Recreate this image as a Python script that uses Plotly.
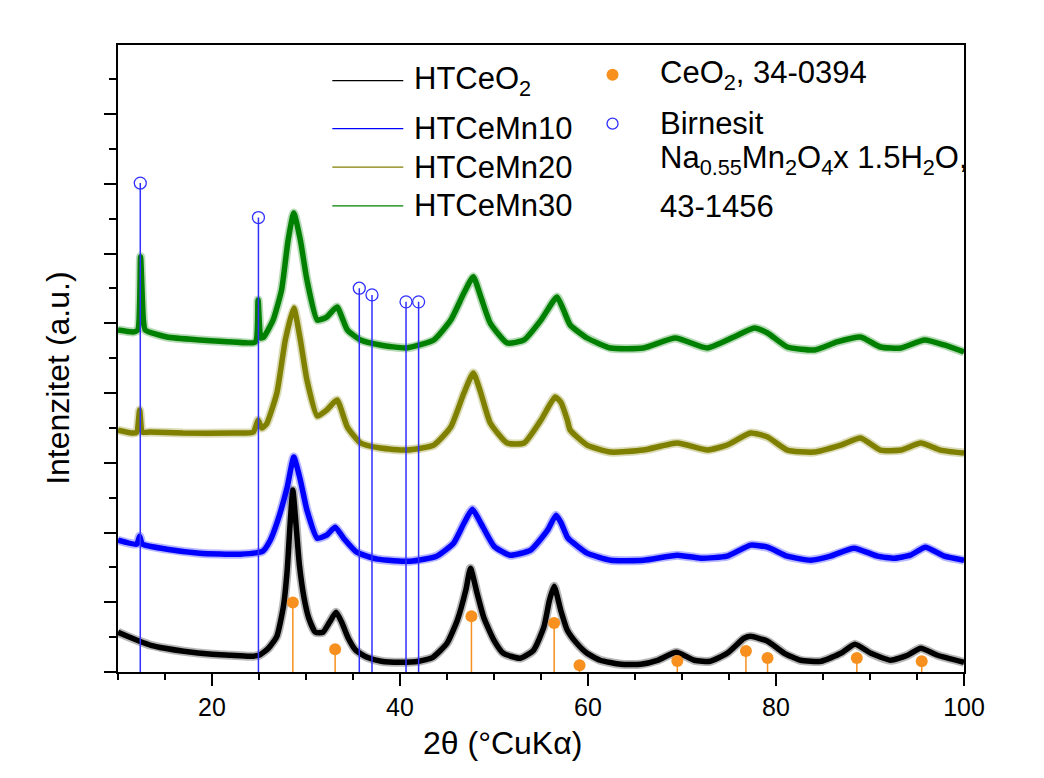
import plotly.graph_objects as go

# ---------------- data ----------------
# HTCeO2 (black)
x_ceo2 = [10.0, 11.0, 12.3, 13.5, 15.0, 17.0, 20.0, 22.0, 24.0, 25.0, 26.0, 26.9, 27.6, 28.0, 28.3,
          28.6, 28.9, 29.3, 29.8, 30.3, 31.0, 31.8, 32.5, 33.2, 33.8, 34.5, 35.3, 36.5, 38.0, 40.0,
          42.0, 43.5, 45.0, 46.1, 47.0, 47.5, 48.2, 48.9, 50.0, 51.0, 52.8, 54.2, 55.3, 55.9, 56.4,
          57.1, 57.8, 58.8, 59.9, 61.3, 63.5, 65.6, 67.4, 69.4, 71.3, 73.0, 74.8, 76.6, 77.3, 79.1,
          80.9, 82.6, 84.8, 86.9, 88.4, 90.1, 92.2, 94.0, 95.4, 97.2, 100.0]
y_ceo2 = [0.570, 0.512, 0.441, 0.383, 0.340, 0.297, 0.254, 0.240, 0.225, 0.240, 0.340, 0.512, 0.943, 1.460, 2.106,
          2.608, 2.177, 1.532, 1.058, 0.771, 0.570, 0.570, 0.713, 0.857, 0.713, 0.484, 0.311, 0.211, 0.154, 0.139,
          0.154, 0.211, 0.412, 0.742, 1.173, 1.488, 1.130, 0.785, 0.455, 0.268, 0.197, 0.311, 0.642, 1.029, 1.230,
          0.886, 0.599, 0.412, 0.268, 0.168, 0.111, 0.111, 0.168, 0.283, 0.168, 0.154, 0.268, 0.484, 0.512, 0.441,
          0.268, 0.168, 0.154, 0.268, 0.398, 0.268, 0.168, 0.240, 0.340, 0.240, 0.139]

# HTCeMn10 (blue)
x_mn10 = [10.0, 12.0, 12.3, 12.6, 15.2, 18.7, 23.0, 25.4, 26.2, 26.9, 28.0, 28.7, 29.4, 30.1, 31.2,
          32.2, 33.1, 34.0, 35.4, 37.6, 41.1, 43.9, 45.7, 46.8, 47.7, 48.6, 50.0, 51.7, 53.9, 55.7,
          56.6, 57.1, 57.8, 58.1, 59.9, 62.4, 65.9, 69.5, 72.0, 74.8, 77.3, 79.1, 81.2, 83.7, 85.8,
          88.3, 90.8, 92.6, 94.3, 95.9, 97.9, 100.0]
y_mn10 = [1.889, 1.833, 1.947, 1.833, 1.761, 1.704, 1.689, 1.732, 1.889, 2.133, 2.650, 3.081, 2.752, 2.321, 1.919,
          1.962, 2.077, 1.919, 1.718, 1.618, 1.589, 1.661, 1.847, 2.133, 2.334, 2.133, 1.804, 1.675, 1.747, 2.034,
          2.249, 2.148, 1.933, 1.889, 1.704, 1.603, 1.603, 1.675, 1.632, 1.661, 1.819, 1.790, 1.661, 1.603, 1.661,
          1.776, 1.661, 1.632, 1.675, 1.790, 1.661, 1.603]

# HTCeMn20 (olive)
x_mn20 = [10.0, 11.6, 12.0, 12.3, 12.6, 13.4, 16.9, 22.2, 24.4, 24.9, 25.3, 25.8, 26.9, 27.8, 28.7,
          29.4, 30.1, 31.2, 32.2, 33.3, 34.4, 35.8, 37.9, 40.7, 43.6, 45.4, 46.8, 47.8, 48.6, 49.6,
          51.4, 53.2, 55.0, 56.5, 57.1, 57.8, 58.1, 59.9, 62.4, 65.9, 69.5, 72.7, 74.8, 77.3, 79.1,
          81.2, 84.0, 86.9, 89.0, 91.1, 93.3, 95.4, 97.5, 100.0]
y_mn20 = [3.469, 3.426, 3.440, 3.756, 3.440, 3.440, 3.426, 3.426, 3.440, 3.612, 3.497, 3.555, 4.000, 4.761, 5.220,
          4.761, 4.187, 3.670, 3.756, 3.900, 3.512, 3.283, 3.211, 3.182, 3.254, 3.512, 4.000, 4.287, 4.000, 3.570,
          3.283, 3.283, 3.613, 3.943, 3.871, 3.613, 3.469, 3.254, 3.153, 3.182, 3.283, 3.182, 3.254, 3.426, 3.369,
          3.182, 3.153, 3.254, 3.355, 3.182, 3.182, 3.283, 3.182, 3.139]

# HTCeMn30 (green)
x_mn30 = [10.0, 11.6, 12.1, 12.4, 12.7, 12.9, 15.2, 18.7, 22.2, 24.6, 24.9, 25.2, 25.5, 26.5, 27.4,
          28.1, 28.7, 29.4, 30.1, 31.2, 32.2, 33.3, 34.4, 35.8, 37.9, 40.7, 43.6, 45.4, 46.8, 47.8,
          48.6, 49.6, 51.4, 53.2, 55.0, 56.7, 57.4, 58.1, 59.9, 62.4, 65.9, 69.3, 72.7, 75.5, 77.7,
          79.1, 81.2, 84.1, 86.5, 89.0, 91.1, 93.3, 95.8, 97.9, 100.0]
y_mn30 = [4.904, 4.876, 4.904, 5.953, 5.046, 4.904, 4.803, 4.761, 4.732, 4.732, 5.335, 4.790, 4.803, 5.046, 5.477,
          6.195, 6.582, 6.195, 5.621, 5.046, 5.089, 5.233, 4.904, 4.761, 4.689, 4.646, 4.761, 5.046, 5.433, 5.666,
          5.377, 5.003, 4.718, 4.761, 5.046, 5.377, 5.190, 4.976, 4.789, 4.646, 4.646, 4.789, 4.646, 4.803, 4.933,
          4.861, 4.660, 4.617, 4.732, 4.803, 4.660, 4.646, 4.761, 4.689, 4.589]

# Reference patterns (stick positions and relative heights)
ceo2_ref_x = [28.6, 33.1, 47.6, 56.4, 59.1, 69.5, 76.8, 79.1, 88.6, 95.5]
ceo2_ref_y = [0.996, 0.326, 0.799, 0.703, 0.096, 0.158, 0.301, 0.201, 0.201, 0.154]
birn_ref_x = [12.37, 24.94, 35.67, 37.02, 40.64, 41.98]
birn_ref_y = [7.010, 6.516, 5.503, 5.407, 5.307, 5.307]

series_names = ["HTCeO<sub>2</sub>", "HTCeMn10", "HTCeMn20", "HTCeMn30"]
series_colors = ["#000000", "#0000ff", "#808000", "#008000"]
series_x = [x_ceo2, x_mn10, x_mn20, x_mn30]
series_y = [y_ceo2, y_mn10, y_mn20, y_mn30]

FONT = "Arial, Liberation Sans, sans-serif"
ORANGE = "#f7901e"
BLUE_REF = "#3030ff"

fig = go.Figure()

for xs, ys, c, n in zip(series_x, series_y, series_colors, series_names):
    # faint halo imitating the noise band of the measured pattern
    fig.add_trace(go.Scatter(x=xs, y=ys, mode="lines", opacity=0.28, hoverinfo="skip",
                             line=dict(color=c, width=9, shape="spline", smoothing=0.5),
                             showlegend=False))
    fig.add_trace(go.Scatter(x=xs, y=ys, mode="lines", name=n,
                             line=dict(color=c, width=5.5, shape="spline", smoothing=0.5),
                             showlegend=False))


def stems(xs, ys):
    sx, sy = [], []
    for a, b in zip(xs, ys):
        sx += [a, a, None]
        sy += [0, b, None]
    return sx, sy


sx, sy = stems(ceo2_ref_x, ceo2_ref_y)
fig.add_trace(go.Scatter(x=sx, y=sy, mode="lines", line=dict(color=ORANGE, width=1.5),
                         showlegend=False, hoverinfo="skip"))
fig.add_trace(go.Scatter(x=ceo2_ref_x, y=ceo2_ref_y, mode="markers", name="CeO2, 34-0394",
                         marker=dict(color=ORANGE, size=12, line=dict(width=0)), showlegend=False))

sx, sy = stems(birn_ref_x, birn_ref_y)
fig.add_trace(go.Scatter(x=sx, y=sy, mode="lines", line=dict(color=BLUE_REF, width=1.5),
                         showlegend=False, hoverinfo="skip"))
fig.add_trace(go.Scatter(x=birn_ref_x, y=birn_ref_y, mode="markers", name="Birnesit",
                         marker=dict(symbol="circle-open", color=BLUE_REF, size=12,
                                     line=dict(width=1.3, color=BLUE_REF)),
                         showlegend=False))

# ---------------- hand-placed legend (two columns as in the original) ----------------
leg_rows = [8.479, 7.790, 7.240, 6.684]
for name, color, yr in zip(series_names, series_colors, leg_rows):
    fig.add_shape(type="line", xref="x", yref="y", x0=32.8, x1=40.35, y0=yr, y1=yr,
                  line=dict(color=color, width=1.3))
    fig.add_annotation(x=41.3, y=yr, xref="x", yref="y", text=name, showarrow=False,
                       xanchor="left", yanchor="middle", font=dict(family=FONT, size=31, color="black"))

fig.add_shape(type="circle", xref="x", yref="y", xsizemode="pixel", ysizemode="pixel",
              xanchor=62.61, yanchor=8.565, x0=-6, x1=6, y0=-6, y1=6,
              fillcolor=ORANGE, line=dict(width=0))
fig.add_shape(type="circle", xref="x", yref="y", xsizemode="pixel", ysizemode="pixel",
              xanchor=62.61, yanchor=7.862, x0=-5.5, x1=5.5, y0=-5.5, y1=5.5,
              line=dict(color=BLUE_REF, width=1.3))
right_texts = ["CeO<sub>2</sub>, 34-0394", "Birnesit",
               "Na<sub>0.55</sub>Mn<sub>2</sub>O<sub>4</sub>x 1.5H<sub>2</sub>O,", "43-1456"]
right_rows = [8.565, 7.862, 7.345, 6.670]
for t, yr in zip(right_texts, right_rows):
    fig.add_annotation(x=67.4, y=yr, xref="x", yref="y", text=t, showarrow=False,
                       xanchor="left", yanchor="middle", font=dict(family=FONT, size=31, color="black"))

# axis titles (placed off-centre as in the original)
fig.add_annotation(x=0.454, y=-0.113, xref="paper", yref="paper", text="2θ (°CuKα)", showarrow=False,
                   xanchor="center", yanchor="middle", font=dict(family=FONT, size=32, color="black"))
fig.add_annotation(x=-0.071, y=0.469, xref="paper", yref="paper", text="Intenzitet (a.u.)", showarrow=False,
                   textangle=-90, xanchor="center", yanchor="middle",
                   font=dict(family=FONT, size=32, color="black"))

fig.update_layout(
    width=1044, height=778,
    margin=dict(l=110, r=88, t=37, b=114),
    paper_bgcolor="white", plot_bgcolor="white",
    font=dict(family=FONT, color="black"),
    showlegend=False,
)
fig.update_xaxes(range=[10, 100], tick0=0, dtick=20, ticks="outside", ticklen=12, tickwidth=1.5,
                 tickcolor="black", showline=True, linecolor="black", linewidth=1.5, mirror=True,
                 showgrid=False, zeroline=False,
                 tickfont=dict(size=25, family=FONT),
                 minor=dict(dtick=5, ticks="outside", ticklen=6, tickwidth=1.5, tickcolor="black", showgrid=False))
fig.update_yaxes(range=[0, 8.99], tick0=0, dtick=1, ticks="outside", ticklen=12, tickwidth=1.5,
                 tickcolor="black", showline=True, linecolor="black", linewidth=1.5, mirror=True,
                 showgrid=False, zeroline=False, showticklabels=False,
                 minor=dict(dtick=0.5, ticks="outside", ticklen=7, tickwidth=1.5, tickcolor="black", showgrid=False))

fig.write_html("out.html")
